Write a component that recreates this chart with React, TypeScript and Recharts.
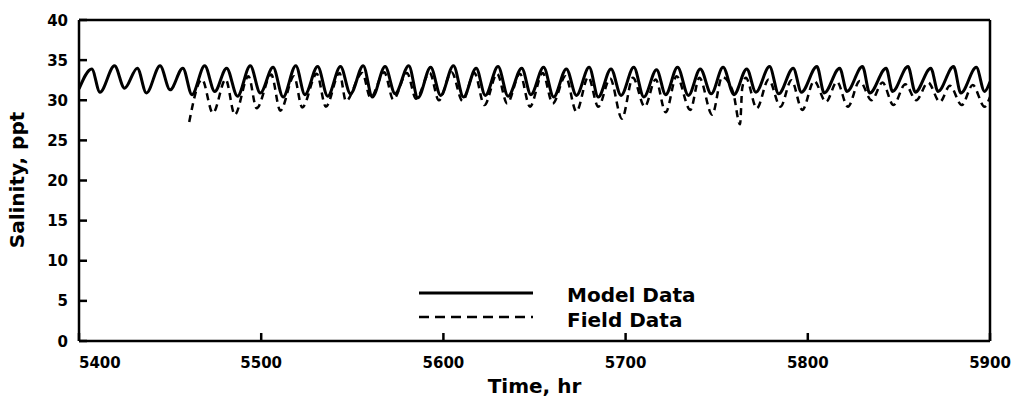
import { LineChart, Line, XAxis, YAxis, ReferenceLine, Legend } from "recharts";

// model run: crests and troughs
const modelHours = [
  5400, 5407, 5411.5, 5419.5, 5425, 5432, 5437, 5444.5, 5450, 5457, 5462, 5469, 5474.5, 5481, 5487,
  5494, 5499.5, 5506.5, 5512, 5519, 5524, 5531, 5536.5, 5543.5, 5549, 5556, 5561, 5568, 5573.5,
  5581, 5586, 5593, 5598.5, 5605.5, 5611, 5618, 5623, 5630, 5635.5, 5643, 5648, 5655, 5660.5,
  5667.5, 5673, 5680, 5685, 5692, 5697.5, 5704.5, 5710, 5717, 5722, 5728.5, 5734.5, 5741, 5747,
  5753.5, 5759.5, 5766.5, 5771.5, 5779, 5784, 5792, 5796.5, 5805, 5809, 5817.5, 5821.5, 5830,
  5834, 5843, 5846.5, 5855, 5859, 5867.5, 5871.5, 5880, 5884, 5892.5, 5897, 5900,
];
const modelSalinity = [
  31.4, 33.9, 31.0, 34.3, 31.5, 34.0, 30.9, 34.3, 31.3, 34.0, 30.7, 34.3, 31.1, 34.0, 30.5,
  34.3, 30.9, 34.1, 30.4, 34.3, 30.7, 34.2, 30.5, 34.2, 30.8, 34.3, 30.4, 34.2, 30.8,
  34.3, 30.3, 34.1, 30.6, 34.3, 30.4, 34.0, 30.6, 34.2, 30.5, 34.0, 30.7, 34.1, 30.4,
  33.9, 30.6, 34.1, 30.4, 33.9, 30.6, 34.1, 30.4, 33.8, 30.7, 34.1, 30.6, 33.9, 30.8,
  34.1, 30.7, 33.9, 31.0, 34.2, 30.8, 34.0, 31.0, 34.2, 30.9, 34.0, 31.1, 34.2,
  30.9, 34.0, 31.1, 34.2, 31.0, 34.0, 31.1, 34.2, 30.9, 34.1, 31.1, 32.3,
];

// field record (dashed), starts around hour 5460
const fieldHours = [
  5460.5, 5467.5, 5473.5, 5480.5, 5485.5, 5493, 5497.5, 5505.5, 5510.5, 5518, 5522.5, 5530.5,
  5535.5, 5543, 5546.5, 5555.5, 5560, 5567.5, 5572.5, 5580, 5585, 5592.5, 5597.5, 5604.5,
  5610.5, 5617, 5622.5, 5629.5, 5635, 5642, 5647.5, 5654.5, 5660, 5667, 5673, 5679.5, 5685,
  5691.5, 5698, 5704, 5710.5, 5716.5, 5722, 5728, 5735.5, 5740.5, 5747.5, 5753, 5759, 5762.8,
  5764, 5766, 5772, 5778.5, 5785, 5791, 5797, 5803.5, 5810, 5816, 5822, 5828.5, 5835, 5841,
  5847, 5853.5, 5859.5, 5866, 5872.5, 5878, 5884.5, 5890.5, 5897, 5900,
];
const fieldSalinity = [
  27.3, 32.6, 28.4, 32.6, 28.2, 33.0, 29.0, 33.2, 28.7, 33.0, 29.1, 33.3,
  29.2, 33.4, 29.9, 33.4, 30.3, 33.5, 30.1, 33.4, 30.2, 33.4, 30.0, 33.5,
  29.9, 33.4, 29.4, 33.3, 29.6, 33.3, 29.2, 33.4, 29.6, 33.0, 28.6, 32.9, 29.2,
  32.7, 27.7, 32.8, 29.2, 32.6, 28.5, 33.0, 28.8, 32.8, 28.2, 32.9, 31.0, 27.0,
  31.5, 32.8, 29.0, 32.6, 29.2, 32.5, 28.8, 32.4, 29.8, 32.3, 29.2, 32.4, 30.0, 32.2,
  29.4, 32.0, 30.0, 32.2, 29.8, 31.8, 29.4, 31.9, 29.2, 30.4,
];

const xTicks = [5400, 5500, 5600, 5700, 5800, 5900];
const yTicks = [0, 5, 10, 15, 20, 25, 30, 35, 40];

const modelData = modelHours.map((t, i) => ({ t, v: modelSalinity[i] }));
const fieldData = fieldHours.map((t, i) => ({ t, v: fieldSalinity[i] }));

const FONT = "'DejaVu Sans', sans-serif";

const YTick = (props: any) => {
  const { x, y, payload } = props;
  return (
    <g>
      <line x1={x + 11} x2={x + 19} y1={y} y2={y} stroke="#000" strokeWidth={2.5} />
      <text x={x} y={y} dy={5.5} textAnchor="end" fontFamily={FONT} fontWeight="bold" fontSize={15} fill="#000">
        {payload.value}
      </text>
    </g>
  );
};

const XTick = (props: any) => {
  const { x, y, payload, index } = props;
  return (
    <g>
      <line x1={x} x2={x} y1={y - 16} y2={y - 24} stroke="#000" strokeWidth={2.5} />
      <text x={x} y={y} dy={11} textAnchor={index === 0 ? "start" : "middle"} fontFamily={FONT} fontWeight="bold" fontSize={15} fill="#000">
        {payload.value}
      </text>
    </g>
  );
};

const legendContent = () => (
  <svg width={300} height={52}>
    <line x1={9} x2={123} y1={13} y2={13} stroke="#000" strokeWidth={3} />
    <line x1={9} x2={123} y1={37} y2={37} stroke="#000" strokeWidth={2.5} strokeDasharray="10 6" />
    <text x={157} y={22} fontFamily={FONT} fontWeight="bold" fontSize={20} fill="#000">Model Data</text>
    <text x={157} y={47} fontFamily={FONT} fontWeight="bold" fontSize={20} fill="#000">Field Data</text>
  </svg>
);

const yLabel = () => (
  <text x={17} y={180} transform="rotate(-90 17 180)" textAnchor="middle" dy={7} fontFamily={FONT} fontWeight="bold" fontSize={20} fill="#000">
    Salinity, ppt
  </text>
);

export default function App() {
  return (
    <div style={{ position: "absolute", left: 0, top: 0, background: "#fff" }}>
      <LineChart width={1019} height={400} margin={{ top: 20, right: 29, bottom: 0, left: 0 }}>
        <XAxis
          type="number"
          dataKey="t"
          domain={[5400, 5900]}
          ticks={xTicks}
          allowDataOverflow
          height={59}
          axisLine={{ stroke: "#000", strokeWidth: 2.5 }}
          tickLine={false}
          tickSize={0}
          tickMargin={16}
          tick={<XTick />}
          interval={0}
          label={{ value: "Time, hr", position: "insideBottom", offset: 7, fontFamily: FONT, fontWeight: "bold", fontSize: 20, fill: "#000" }}
        />
        <YAxis
          type="number"
          domain={[0, 40]}
          ticks={yTicks}
          width={79}
          axisLine={{ stroke: "#000", strokeWidth: 2.5 }}
          tickLine={false}
          tickSize={0}
          tickMargin={11}
          tick={<YTick />}
          interval={0}
          label={{ content: yLabel }}
        />
        <ReferenceLine y={40} stroke="#000" strokeWidth={2.5} />
        <ReferenceLine x={5900} stroke="#000" strokeWidth={2.5} />
        <Line
          data={fieldData}
          dataKey="v"
          type="monotone"
          stroke="#000"
          strokeWidth={2.5}
          strokeDasharray="7 5"
          dot={false}
          isAnimationActive={false}
        />
        <Line
          data={modelData}
          dataKey="v"
          type="monotone"
          stroke="#000"
          strokeWidth={3}
          dot={false}
          isAnimationActive={false}
        />
        <Legend
          layout="vertical"
          align="center"
          verticalAlign="middle"
          content={legendContent}
          wrapperStyle={{ left: 410, top: 280, width: 300, height: 52 }}
        />
      </LineChart>
    </div>
  );
}
